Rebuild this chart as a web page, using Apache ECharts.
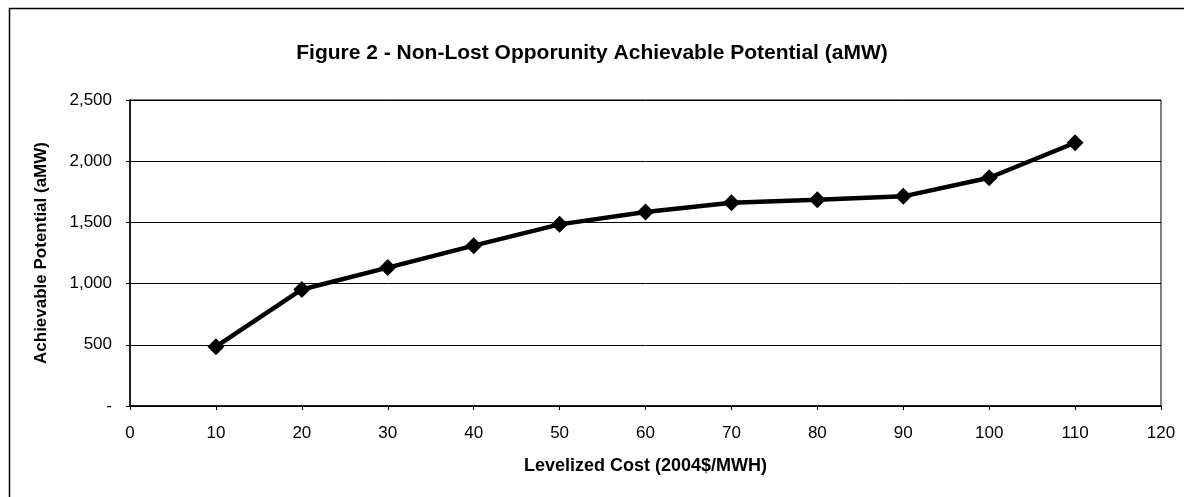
<!DOCTYPE html>
<html>
<head>
<meta charset="utf-8">
<script src="https://cdn.jsdelivr.net/npm/echarts@6/dist/echarts.min.js"></script>
<style>html,body{margin:0;padding:0;background:#fff;}#c{width:1184px;height:497px;}</style>
</head>
<body>
<div id="c"></div>
<script>
var costs = [10, 20, 30, 40, 50, 60, 70, 80, 90, 100, 110];
var potential = [485, 952, 1131, 1310, 1484, 1585, 1660, 1686, 1713, 1865, 2151];
var titleText = 'Figure 2 - Non-Lost Opporunity Achievable Potential (aMW)';
var xName = 'Levelized Cost (2004$/MWH)';
var yName = 'Achievable Potential (aMW)';

var chart = echarts.init(document.getElementById('c'), null, {renderer: 'canvas'});
var font = 'Liberation Sans, Arial, sans-serif';
chart.setOption({
  animation: false,
  backgroundColor: '#fff',
  graphic: [{
    type: 'rect', left: 7, top: 6, silent: true,
    shape: {width: 1200, height: 520},
    style: {fill: 'none', stroke: '#000', lineWidth: 1.5}
  }],
  title: {
    text: titleText, left: 'center', top: 38,
    textStyle: {fontFamily: font, fontSize: 21, fontWeight: 'bold', color: '#000'}
  },
  grid: {left: 130, top: 100, width: 1031, height: 306, show: true, borderColor: '#000', borderWidth: 1, backgroundColor: '#fff'},
  xAxis: {
    type: 'value', min: 0, max: 120, interval: 10,
    name: xName, nameLocation: 'middle', nameGap: 51,
    nameTextStyle: {fontFamily: font, fontSize: 18, fontWeight: 'bold', color: '#000'},
    axisLine: {lineStyle: {color: '#000', width: 1.5}},
    axisTick: {show: true, length: 4, lineStyle: {color: '#000'}},
    axisLabel: {fontFamily: font, fontSize: 17, color: '#000', margin: 19},
    splitLine: {show: false}
  },
  yAxis: {
    type: 'value', min: 0, max: 2500, interval: 500,
    name: yName, nameLocation: 'middle', nameGap: 80, nameRotate: 90,
    nameTextStyle: {fontFamily: font, fontSize: 17, fontWeight: 'bold', color: '#000'},
    axisLine: {show: true, lineStyle: {color: '#000', width: 1.5}},
    axisTick: {show: true, length: 4, lineStyle: {color: '#000'}},
    axisLabel: {
      fontFamily: font, fontSize: 17, color: '#000', margin: 18,
      formatter: function (v) { return v === 0 ? '-' : v.toLocaleString('en-US'); }
    },
    splitLine: {show: true, lineStyle: {color: '#000', width: 1}}
  },
  series: [{
    type: 'line',
    data: costs.map(function (c, i) { return [c, potential[i]]; }),
    symbol: 'diamond', symbolSize: 17,
    lineStyle: {color: '#000', width: 4.5},
    itemStyle: {color: '#000'}
  }]
});
</script>
</body>
</html>
